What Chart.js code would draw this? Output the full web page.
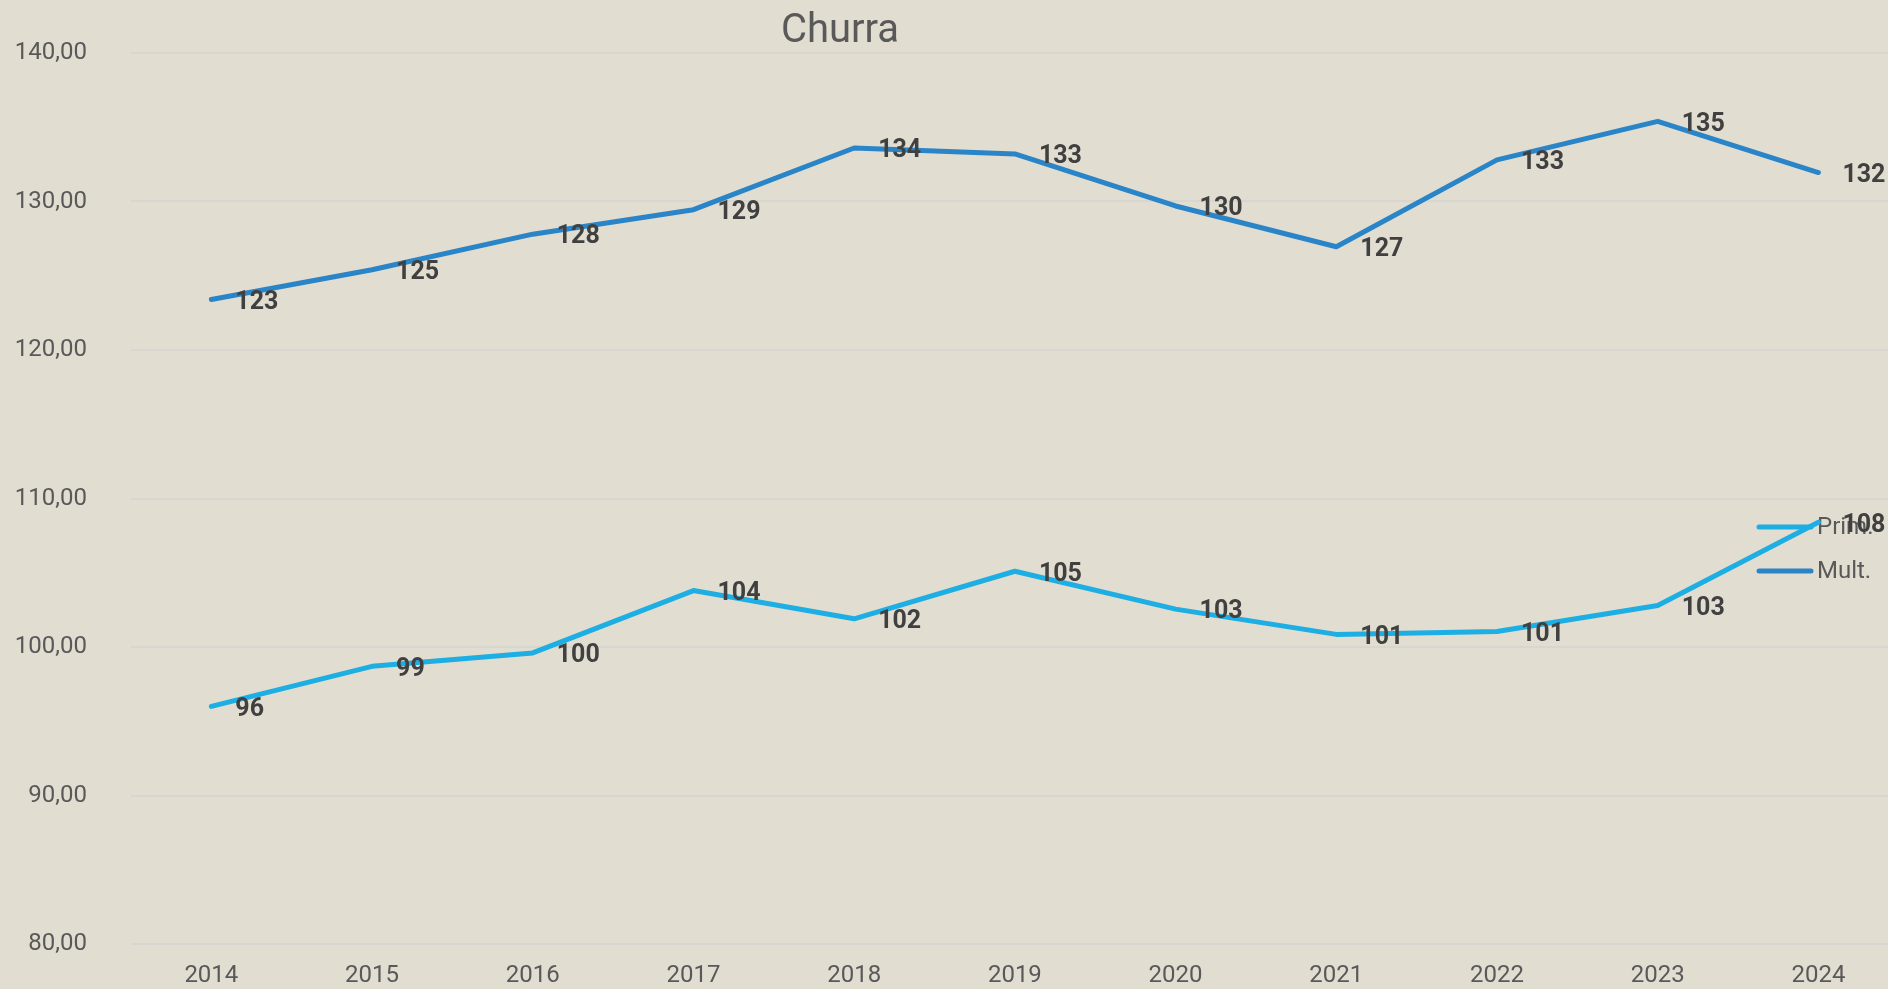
<!DOCTYPE html>
<html>
<head>
<meta charset="utf-8">
<script src="https://cdn.jsdelivr.net/npm/chart.js@4.4.1/dist/chart.umd.min.js"></script>
<style>
    html, body { margin: 0; padding: 0; background: #E2DDD1; overflow: hidden; }
    canvas { display: block; }
</style>
</head>
<body>
<canvas id="churraChart" width="1888" height="989"></canvas>
<script>
// Churra - Prim. / Mult.
const years = [2014, 2015, 2016, 2017, 2018, 2019, 2020, 2021, 2022, 2023, 2024];
const prim = [96.0, 98.7, 99.6, 103.8, 101.9, 105.1, 102.55, 100.85, 101.05, 102.8, 108.4];
const mult = [123.4, 125.4, 127.8, 129.45, 133.6, 133.2, 129.7, 126.95, 132.8, 135.4, 131.95];
const seriesNames = ['Prim.', 'Mult.'];
const yTicks = [80, 90, 100, 110, 120, 130, 140];

const textGrey = '#595959';
const fontName = 'Roboto, "Liberation Sans", sans-serif';

// Titel oben
const titlePlugin = {
    id: 'titlePlugin',
    afterDraw(chart) {
        const ctx = chart.ctx;
        ctx.save();
        ctx.font = '40px ' + fontName;
        ctx.fillStyle = textGrey;
        ctx.textAlign = 'center';
        ctx.textBaseline = 'middle';
        ctx.fillText('Churra', 840, 32);
        ctx.restore();
    }
};

// Legende rechts im Plotbereich
const legendPlugin = {
    id: 'legendPlugin',
    beforeDatasetsDraw(chart) {
        const ctx = chart.ctx;
        const right = chart.chartArea.right;
        ctx.save();
        chart.data.datasets.forEach(function(ds, i) {
            const y = 527 + i * 44;
            ctx.strokeStyle = ds.borderColor;
            ctx.lineWidth = 5;
            ctx.lineCap = 'round';
            ctx.beginPath();
            ctx.moveTo(right - 129, y);
            ctx.lineTo(right - 77, y);
            ctx.stroke();
            ctx.font = '24px ' + fontName;
            ctx.fillStyle = textGrey;
            ctx.textAlign = 'left';
            ctx.textBaseline = 'middle';
            ctx.fillText(ds.label, right - 71, y + 1);
        });
        ctx.restore();
    }
};

// Datenbeschriftungen
const labelPlugin = {
    id: 'labelPlugin',
    afterDatasetsDraw(chart) {
        const ctx = chart.ctx;
        ctx.save();
        ctx.font = 'bold 25px ' + fontName;
        ctx.fillStyle = '#404040';
        ctx.textAlign = 'left';
        ctx.textBaseline = 'middle';
        chart.data.datasets.forEach(function(ds, i) {
            chart.getDatasetMeta(i).data.forEach(function(pt, j) {
                ctx.fillText(Math.round(ds.data[j].y), pt.x + 24, pt.y + 3);
            });
        });
        ctx.restore();
    }
};

const ctx = document.getElementById('churraChart').getContext('2d');
new Chart(ctx, {
    type: 'line',
    data: {
        datasets: [{
            label: seriesNames[0],
            data: years.map((y, i) => ({ x: y, y: prim[i] })),
            borderColor: '#1DAEE4',
            borderWidth: 5,
            borderCapStyle: 'round',
            borderJoinStyle: 'round',
            pointRadius: 0,
            tension: 0
        }, {
            label: seriesNames[1],
            data: years.map((y, i) => ({ x: y, y: mult[i] })),
            borderColor: '#2A84C8',
            borderWidth: 5,
            borderCapStyle: 'round',
            borderJoinStyle: 'round',
            pointRadius: 0,
            tension: 0
        }]
    },
    options: {
        responsive: false,
        animation: false,
        layout: { padding: { top: 53, right: 0, left: 0, bottom: 0 } },
        scales: {
            x: {
                type: 'linear',
                min: 2013.5,
                max: 2024.433,
                afterBuildTicks: function(scale) {
                    scale.ticks = years.map(v => ({ value: v }));
                },
                afterFit: function(scale) { scale.height = 45; },
                grid: { display: false, drawTicks: false },
                border: { display: false },
                ticks: {
                    padding: 18,
                    color: textGrey,
                    font: { family: fontName, size: 24 },
                    callback: function(value) { return String(value); }
                }
            },
            y: {
                min: 80,
                max: 140,
                afterBuildTicks: function(scale) {
                    scale.ticks = yTicks.map(v => ({ value: v }));
                },
                afterFit: function(scale) {
                    scale.width = 131;
                    // Tick-Padding soll den Plotbereich nicht verkleinern
                    scale.paddingTop = 0;
                    scale.paddingBottom = 0;
                },
                grid: { color: '#D8D6D0', lineWidth: 2, drawTicks: false },
                border: { display: false },
                ticks: {
                    padding: 44,
                    color: textGrey,
                    font: { family: fontName, size: 24 },
                    callback: function(value) {
                        return value.toFixed(2).replace('.', ',');
                    }
                }
            }
        },
        plugins: {
            legend: { display: false },
            title: { display: false },
            tooltip: { enabled: false }
        }
    },
    plugins: [titlePlugin, legendPlugin, labelPlugin]
});
</script>
</body>
</html>
